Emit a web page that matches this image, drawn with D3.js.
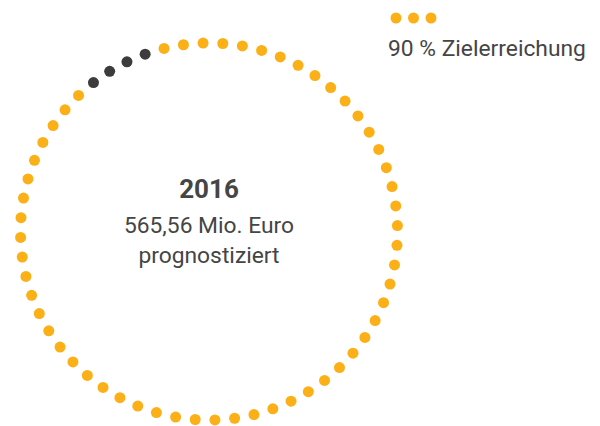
<!DOCTYPE html>
<html><head><meta charset="utf-8">
<script src="https://cdn.jsdelivr.net/npm/d3@7"></script>
<style>html,body{margin:0;padding:0;background:#fff;}svg{display:block;}</style>
</head><body>
<svg id="chart" width="600" height="426"></svg>
<script>
// Data
const segmentCounts = [54, 4, 2];          // dots per run, clockwise from the top
const segmentTypes  = ["ziel", "offen", "ziel"];
const centerLines   = ["2016", "565,56 Mio. Euro", "prognostiziert"];
const legendLabel   = "90 % Zielerreichung";
const legendDots    = [0, 1, 2];

const colors = { ziel: "#FCB017", offen: "#3C3C3C" };

const dots = [];
segmentCounts.forEach((c, s) => { for (let i = 0; i < c; i++) dots.push({ type: segmentTypes[s] }); });
const total = dots.length;

const svg = d3.select("#chart");
const cx = 209, cy = 231.5, R = 188.5;
const off = -1.8 * Math.PI / 180;
const angle = d3.scaleLinear().domain([0, total]).range([off, 2 * Math.PI + off]);

svg.append("g").selectAll("circle").data(dots).join("circle")
  .attr("cx", (d, i) => cx + R * Math.sin(angle(i)))
  .attr("cy", (d, i) => cy - R * Math.cos(angle(i)))
  .attr("r", 5.5)
  .attr("fill", d => colors[d.type]);

const font = "Roboto, 'Open Sans', sans-serif";
const t = svg.append("g").attr("text-anchor", "middle").attr("fill", "#454545").style("font-family", font);
t.append("text").attr("x", cx).attr("y", 198).style("font-size", "26px").style("font-weight", "bold").text(centerLines[0]);
t.append("text").attr("x", cx).attr("y", 233).style("font-size", "22.8px").text(centerLines[1]);
t.append("text").attr("x", cx).attr("y", 263).style("font-size", "22.8px").text(centerLines[2]);

const lx = d3.scaleLinear().domain([0, 2]).range([396, 431]);
svg.append("g").selectAll("circle").data(legendDots).join("circle")
  .attr("cx", d => lx(d)).attr("cy", 18).attr("r", 5.5).attr("fill", colors.ziel);
svg.append("text").attr("x", 388).attr("y", 56).attr("fill", "#454545")
  .style("font-family", font).style("font-size", "22.8px").text(legendLabel);
</script>
</body></html>
